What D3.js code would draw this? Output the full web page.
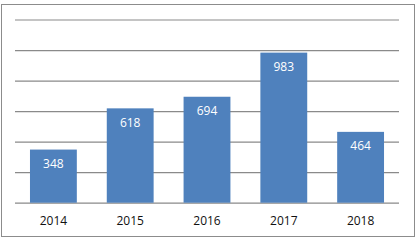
<!DOCTYPE html>
<html><head><meta charset="utf-8">
<script src="https://cdn.jsdelivr.net/npm/d3@7"></script>
<style>html,body{margin:0;padding:0;background:#fff;}</style>
</head><body>
<script>
const categories = ["2014","2015","2016","2017","2018"];
const values = [348,618,694,983,464];
const yTicks = [0,200,400,600,800,1000,1200];

const W = 417, H = 241;
const svg = d3.select("body").append("svg").attr("width",W).attr("height",H);
svg.append("rect").attr("x",1.5).attr("y",4.5).attr("width",413).attr("height",232)
  .attr("fill","#fff").attr("stroke","#8c8c8c").attr("stroke-width",1);

const m = {left:15, right:18, top:19.5, bottom:38.3};
const x = d3.scaleBand().domain(categories).range([m.left, W-m.right]).paddingInner(0.39).paddingOuter(0.195);
const y = d3.scaleLinear().domain([0,1200]).range([H-m.bottom, m.top]);

const grid = svg.append("g").attr("class","grid")
  .call(d3.axisLeft(y).tickValues(yTicks).tickSize(-(W-m.right-m.left)).tickFormat(""))
  .attr("transform",`translate(${m.left},0)`);
grid.select(".domain").remove();
grid.selectAll("line").attr("stroke","#8a8a8a").attr("stroke-width",1.2);

svg.selectAll("rect.bar").data(values).join("rect").attr("class","bar")
  .attr("x",(d,i)=>x(categories[i])).attr("width",x.bandwidth())
  .attr("y",d=>y(d)).attr("height",d=>y(0)-y(d)).attr("fill","#4f81bd");

svg.selectAll("text.val").data(values).join("text").attr("class","val")
  .attr("x",(d,i)=>x(categories[i])+x.bandwidth()/2).attr("y",d=>y(d)+18.5)
  .attr("text-anchor","middle").attr("fill","#fff")
  .style("font-family","'Open Sans', Lato, sans-serif").style("font-size","12px")
  .text(d=>d);

const xa = svg.append("g").attr("transform",`translate(0,${y(0)})`)
  .call(d3.axisBottom(x).tickSize(0).tickPadding(14));
xa.select(".domain").remove();
xa.selectAll("text").attr("fill","#111").style("font-family","'Open Sans', Lato, sans-serif").style("font-size","12px");
</script>
</body></html>
